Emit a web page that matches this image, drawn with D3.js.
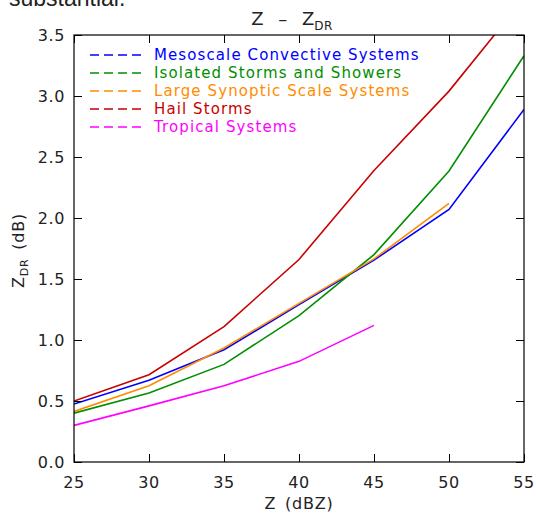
<!DOCTYPE html>
<html>
<head>
<meta charset="utf-8">
<script src="https://cdn.jsdelivr.net/npm/d3@7"></script>
<style>
  html, body { margin: 0; padding: 0; background: #fff; }
  svg { display: block; }
  text { font-family: "DejaVu Sans", sans-serif; }
</style>
</head>
<body>
<svg id="chart" width="536" height="514"></svg>
<script>
// Reflectivity (dBZ) sample points
const zValues = [25, 30, 35, 40, 45, 50, 55];

// Mean differential reflectivity (dB) per storm type; null = no data
const mcsValues      = [0.475, 0.67, 0.92, 1.29, 1.655, 2.07, 2.89];
const isolatedValues = [0.40, 0.565, 0.80, 1.20, 1.70, 2.385, 3.33];
const synopticValues = [0.415, 0.625, 0.935, 1.30, 1.665, 2.12, null];
const hailValues     = [0.50, 0.715, 1.11, 1.66, 2.39, 3.04, 3.80];
const tropicalValues = [0.30, 0.46, 0.625, 0.825, 1.12, null, null];

const seriesNames  = ["Mesoscale Convective Systems", "Isolated Storms and Showers",
                      "Large Synoptic Scale Systems", "Hail Storms", "Tropical Systems"];
const seriesColors = ["#0000ff", "#008f00", "#ff8c00", "#c80000", "#ff00ff"];
const seriesValues = [mcsValues, isolatedValues, synopticValues, hailValues, tropicalValues];

const xTicks = [25, 30, 35, 40, 45, 50, 55];
const yTicks = [0.0, 0.5, 1.0, 1.5, 2.0, 2.5, 3.0, 3.5];

const svg = d3.select("#chart");
const margin = { left: 74, right: 12, top: 35, bottom: 52 };
const W = 536, H = 514;
const x = d3.scaleLinear().domain([25, 55]).range([margin.left, W - margin.right]);
const y = d3.scaleLinear().domain([0, 3.5]).range([H - margin.bottom, margin.top]);

// Tail of the paragraph sitting above the figure
svg.append("text").attr("x", 9).attr("y", 6)
  .style("font-family", "'Liberation Sans', Arial, sans-serif")
  .style("font-size", "23px").attr("fill", "#222").text("substantial.");

const clipId = "plot-clip";
svg.append("defs").append("clipPath").attr("id", clipId)
  .append("rect").attr("x", x(25)).attr("y", y(3.5))
  .attr("width", x(55) - x(25)).attr("height", y(0) - y(3.5));

// Data lines
const line = d3.line()
  .defined(d => d[1] != null)
  .x(d => x(d[0])).y(d => y(d[1]));

const lines = svg.append("g").attr("clip-path", `url(#${clipId})`);
seriesValues.forEach((vals, i) => {
  lines.append("path")
    .datum(zValues.map((z, j) => [z, vals[j]]))
    .attr("d", line)
    .attr("fill", "none")
    .attr("stroke", seriesColors[i])
    .attr("stroke-width", 1.6);
});

// Axes with major and minor ticks on all four sides
const axisColor = "#000";
const xMinor = d3.range(25, 55.01, 1);
const yMinor = d3.range(0, 3.501, 0.1);
function ticks(axisFn, scale, values, size) {
  return axisFn(scale).tickValues(values).tickSize(size).tickFormat("");
}
const gB = svg.append("g").attr("transform", `translate(0,${y(0)})`);
gB.call(ticks(d3.axisTop, x, xMinor, 4));
gB.call(ticks(d3.axisTop, x, xTicks, 8));
const gT = svg.append("g").attr("transform", `translate(0,${y(3.5)})`);
gT.call(ticks(d3.axisBottom, x, xMinor, 4));
gT.call(ticks(d3.axisBottom, x, xTicks, 8));
const gL = svg.append("g").attr("transform", `translate(${x(25)},0)`);
gL.call(ticks(d3.axisRight, y, yMinor, 4));
gL.call(ticks(d3.axisRight, y, yTicks, 8));
const gR = svg.append("g").attr("transform", `translate(${x(55)},0)`);
gR.call(ticks(d3.axisLeft, y, yMinor, 4));
gR.call(ticks(d3.axisLeft, y, yTicks, 8));
svg.selectAll(".domain").remove();
svg.selectAll(".tick line").attr("stroke", axisColor).attr("stroke-width", 1);

svg.append("rect")
  .attr("x", x(25)).attr("y", y(3.5))
  .attr("width", x(55) - x(25)).attr("height", y(0) - y(3.5))
  .attr("fill", "none").attr("stroke", axisColor).attr("stroke-width", 1.2);

// Tick labels
svg.append("g").selectAll("text").data(xTicks).join("text")
  .attr("x", d => x(d)).attr("y", y(0) + 26)
  .attr("text-anchor", "middle").style("font-size", "16px").attr("fill", "#222")
  .style("letter-spacing", "0.6px")
  .text(d => d);
svg.append("g").selectAll("text").data(yTicks).join("text")
  .attr("x", x(25) - 9).attr("y", d => y(d) + 6)
  .attr("text-anchor", "end").style("font-size", "16px").attr("fill", "#222")
  .style("letter-spacing", "0.6px")
  .text(d => d.toFixed(1));

// Axis titles
svg.append("text").attr("x", (x(25) + x(55)) / 2).attr("y", 509)
  .attr("text-anchor", "middle").style("font-size", "16px").attr("fill", "#222")
  .style("letter-spacing", "0.8px").style("word-spacing", "3px")
  .text("Z (dBZ)");

const yTitle = svg.append("text")
  .attr("transform", `translate(24,${(y(0) + y(3.5)) / 2 + 2}) rotate(-90)`)
  .attr("text-anchor", "middle").style("font-size", "16px").attr("fill", "#222")
  .style("letter-spacing", "0.8px").style("word-spacing", "3px");
yTitle.append("tspan").text("Z");
yTitle.append("tspan").attr("dy", 4).style("font-size", "11px").text("DR");
yTitle.append("tspan").attr("dy", -4).text(" (dB)");

// Title
const title = svg.append("text").attr("x", 292).attr("y", 25)
  .attr("text-anchor", "middle").style("font-size", "18px").attr("fill", "#222")
  .style("word-spacing", "9px");
title.append("tspan").text("Z \u2013 Z");
title.append("tspan").attr("dy", 5).style("font-size", "12px").style("letter-spacing", "0.5px").text("DR");

// Legend
const legend = svg.append("g");
seriesNames.forEach((name, i) => {
  const ly = 55 + i * 18;
  legend.append("line")
    .attr("x1", 90).attr("x2", 142).attr("y1", ly).attr("y2", ly)
    .attr("stroke", seriesColors[i]).attr("stroke-width", 1.6)
    .attr("stroke-dasharray", "9,5");
  legend.append("text")
    .attr("x", 154).attr("y", ly + 5)
    .style("font-size", "15px").style("letter-spacing", "1.1px")
    .attr("fill", seriesColors[i])
    .text(name);
});
</script>
</body>
</html>
